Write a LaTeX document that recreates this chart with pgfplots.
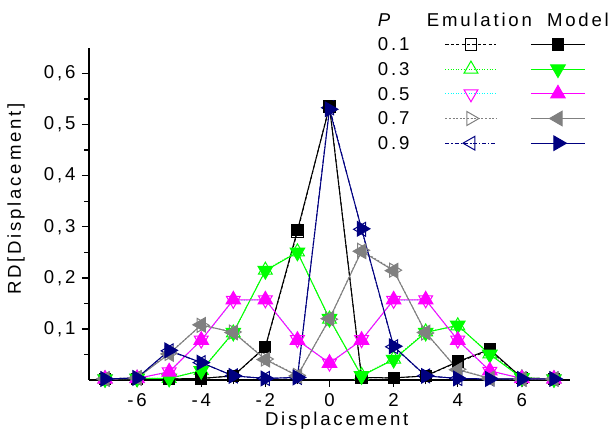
\documentclass[border=0pt]{standalone}
\usepackage{fontspec}
\setmainfont{Liberation Sans}[LetterSpace=15]
\usepackage{pgfplots}
\pgfplotsset{compat=1.18}
\usepackage{pgfplotstable}
\usetikzlibrary{calc}
\definecolor{cgreen}{RGB}{0,255,0}
\definecolor{cmag}{RGB}{255,0,255}
\definecolor{ccyan}{RGB}{0,255,255}
\definecolor{cgrey}{RGB}{128,128,128}
\definecolor{cnavy}{RGB}{0,0,128}

% Model
\pgfplotstableread{
x  p1    p3    p5    p7    p9
-7 0.002 0.002 0.002 0.002 0.002
-6 0.002 0.003 0.003 0.004 0.004
-5 0.002 0.003 0.016 0.051 0.058
-4 0.003 0.018 0.078 0.108 0.034
-3 0.008 0.093 0.157 0.093 0.008
-2 0.065 0.214 0.157 0.040 0.003
-1 0.293 0.250 0.078 0.008 0.005
0  0.535 0.120 0.033 0.120 0.530
1  0.005 0.008 0.078 0.252 0.296
2  0.004 0.040 0.157 0.214 0.066
3  0.008 0.093 0.157 0.093 0.008
4  0.036 0.107 0.078 0.020 0.003
5  0.060 0.050 0.018 0.003 0.002
6  0.004 0.004 0.003 0.002 0.002
7  0.002 0.002 0.002 0.002 0.002
}\model

% Emulation
\pgfplotstableread{
x  p1    p3    p5    p7    p9
-7 0.002 0.002 0.002 0.002 0.002
-6 0.002 0.003 0.003 0.004 0.004
-5 0.002 0.003 0.016 0.052 0.057
-4 0.003 0.019 0.078 0.107 0.034
-3 0.008 0.092 0.156 0.094 0.008
-2 0.064 0.215 0.157 0.041 0.003
-1 0.290 0.251 0.079 0.009 0.005
0  0.537 0.119 0.033 0.119 0.533
1  0.005 0.009 0.079 0.254 0.295
2  0.004 0.041 0.156 0.215 0.065
3  0.008 0.094 0.157 0.092 0.008
4  0.035 0.106 0.078 0.021 0.003
5  0.058 0.051 0.017 0.003 0.002
6  0.004 0.004 0.003 0.002 0.002
7  0.002 0.002 0.002 0.002 0.002
}\emu

\pgfplotsset{
  emuimg/.style={legend image code/.code={%
    \path[draw=none,fill=none] (0bp,-6.175bp) rectangle (41.5bp,6.175bp);
    \draw[mark repeat=2,mark phase=2] plot coordinates {(0bp,0bp) (12.75bp,0bp) (25.5bp,0bp)};}},
  modimg/.style={legend image code/.code={%
    \path[draw=none,fill=none] (0bp,-6.175bp) rectangle (40bp,6.175bp);
    \draw[mark repeat=2,mark phase=2] plot coordinates {(0bp,0bp) (13.5bp,0bp) (27bp,0bp)};}},
  txtimg/.style={legend image code/.code={%
    \path[draw=none,fill=none] (0bp,-6.175bp) rectangle (32.5bp,6.175bp);
    \node[anchor=west,inner sep=0pt,text depth=0pt,overlay] at (0bp,0bp) {#1};}},
  emu1/.style={black, line width=0.5bp, dash pattern=on 1.6bp off 1.1bp, mark=square, mark size=2.8bp,
    mark options={solid, fill=white, line width=0.5bp}, emuimg},
  emu3/.style={cgreen, line width=0.5bp, dash pattern=on 0.5bp off 0.8bp, mark=triangle, mark size=4bp,
    mark options={solid, fill=white, line width=0.5bp}, emuimg},
  emu5/.style={ccyan, line width=0.5bp, dash pattern=on 0.5bp off 0.8bp, mark=triangle, mark size=4bp,
    mark options={solid, draw=cmag, fill=white, line width=0.5bp, rotate=180}, emuimg},
  emu7/.style={cgrey, line width=0.5bp, dash pattern=on 1bp off 0.8bp, mark=triangle, mark size=4bp,
    mark options={solid, fill=white, line width=0.5bp, rotate=-90}, emuimg},
  emu9/.style={cnavy, line width=0.5bp, dash pattern=on 2bp off 1bp on 0.6bp off 1bp, mark=triangle, mark size=4bp,
    mark options={solid, fill=white, line width=0.5bp, rotate=90}, emuimg},
  mod1/.style={black, line width=0.5bp, solid, mark=square*, mark size=2.8bp,
    mark options={solid}, modimg},
  mod3/.style={cgreen, line width=0.5bp, solid, mark=triangle*, mark size=4.2bp,
    mark options={solid, rotate=180}, modimg},
  mod5/.style={cmag, line width=0.5bp, solid, mark=triangle*, mark size=4.2bp,
    mark options={solid}, modimg},
  mod7/.style={cgrey, line width=0.5bp, solid, mark=triangle*, mark size=4.2bp,
    mark options={solid, rotate=90}, modimg},
  mod9/.style={cnavy, line width=0.5bp, solid, mark=triangle*, mark size=4.2bp,
    mark options={solid, rotate=-90}, modimg},
}

\begin{document}
\fontsize{9.3bp}{11bp}\selectfont
\begin{tikzpicture}
\begin{axis}[name=ax, scale only axis, width=240.5bp, height=166bp,
  xmin=-7.5, xmax=7.5, ymin=0, ymax=0.65,
  axis lines*=left, axis line style={line width=0.8bp},
  tick align=outside, major tick length=3.5bp, minor tick length=2.25bp,
  every tick/.style={line width=0.7bp, black},
  xtick={-6,-4,-2,0,2,4,6}, minor xtick={-7,-5,-3,-1,1,3,5,7},
  ytick={0.1,0.2,0.3,0.4,0.5,0.6}, minor ytick={0.05,0.15,0.25,0.35,0.45,0.55},
  /pgf/number format/assume math mode=true,
  yticklabel style={/pgf/number format/.cd, fixed, fixed zerofill, precision=1, use comma},
  xlabel={Displacement}, ylabel={RD[Displacement]},
  xlabel style={at={(axis description cs:0.515,-0.0955)}, anchor=north, inner sep=0pt},
  ylabel style={at={(axis description cs:-0.1414,0.545)}, anchor=base, inner sep=0pt},
  clip=false,
  legend columns=3,
  legend style={at={(axis description cs:0.6008,1.1224)}, anchor=north west, draw=none, fill=none,
    inner sep=0pt, outer sep=0pt, row sep=0pt, column sep=0pt,
    nodes={inner sep=0pt, outer sep=0pt, text depth=0pt}, cells={anchor=west}},
]
\addplot[emu1, forget plot] table[x=x, y=p1] {\emu};
\addplot[emu3, forget plot] table[x=x, y=p3] {\emu};
\addplot[emu5, forget plot] table[x=x, y=p5] {\emu};
\addplot[emu7, forget plot] table[x=x, y=p7] {\emu};
\addplot[emu9, forget plot] table[x=x, y=p9] {\emu};
\addplot[mod1, forget plot] table[x=x, y=p1] {\model};
\addplot[mod3, forget plot] table[x=x, y=p3] {\model};
\addplot[mod5, forget plot] table[x=x, y=p5] {\model};
\addplot[mod7, forget plot] table[x=x, y=p7] {\model};
\addplot[mod9, forget plot] table[x=x, y=p9] {\model};

\addlegendimage{txtimg={\textit{P}}} \addlegendentry{\relax}
\addlegendimage{legend image code/.code={\path[draw=none,fill=none] (0bp,-6.175bp) rectangle (41.5bp,6.175bp);
  \node[anchor=center,inner sep=0pt,text depth=0pt,overlay] at (17bp,0bp) {Emulation};}} \addlegendentry{\relax}
\addlegendimage{legend image code/.code={\path[draw=none,fill=none] (0bp,-6.175bp) rectangle (40bp,6.175bp);
  \node[anchor=center,inner sep=0pt,text depth=0pt,overlay] at (23.5bp,0bp) {Model};}} \addlegendentry{\relax}
\addlegendimage{txtimg={0.1}} \addlegendentry{\relax}
\addlegendimage{emu1} \addlegendentry{\relax}
\addlegendimage{mod1} \addlegendentry{\relax}
\addlegendimage{txtimg={0.3}} \addlegendentry{\relax}
\addlegendimage{emu3} \addlegendentry{\relax}
\addlegendimage{mod3} \addlegendentry{\relax}
\addlegendimage{txtimg={0.5}} \addlegendentry{\relax}
\addlegendimage{emu5} \addlegendentry{\relax}
\addlegendimage{mod5} \addlegendentry{\relax}
\addlegendimage{txtimg={0.7}} \addlegendentry{\relax}
\addlegendimage{emu7} \addlegendentry{\relax}
\addlegendimage{mod7} \addlegendentry{\relax}
\addlegendimage{txtimg={0.9}} \addlegendentry{\relax}
\addlegendimage{emu9} \addlegendentry{\relax}
\addlegendimage{mod9} \addlegendentry{\relax}
\end{axis}
\pgfresetboundingbox
\path ($(ax.south west)+(-44.5bp,-30.5bp)$) rectangle ($(ax.north east)+(20.5bp,24bp)$);
\end{tikzpicture}
\end{document}
